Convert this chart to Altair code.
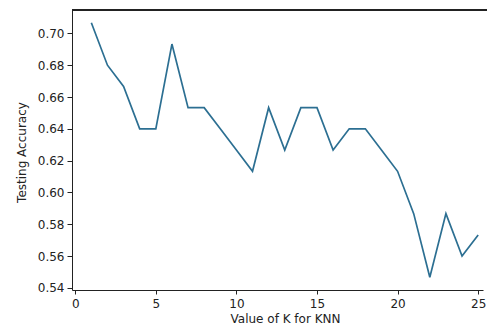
import altair as alt
import pandas as pd

k_values = list(range(1, 26))
accuracy = [0.7067, 0.6800, 0.6667, 0.6400, 0.6400, 0.6933, 0.6533, 0.6533,
            0.6400, 0.6267, 0.6133, 0.6533, 0.6267, 0.6533, 0.6533, 0.6267,
            0.6400, 0.6400, 0.6267, 0.6133, 0.5867, 0.5467, 0.5867, 0.5600,
            0.5733]
x_ticks = [0, 5, 10, 15, 20, 25]
y_ticks = [0.54, 0.56, 0.58, 0.60, 0.62, 0.64, 0.66, 0.68, 0.70]

df = pd.DataFrame({"k": k_values, "acc": accuracy})

W, H = 411, 280
FONT = "DejaVu Sans"
INK = "#222222"

line = alt.Chart(df).mark_line(color="#2c6f92", strokeWidth=1.7, clip=True).encode(
    x=alt.X("k:Q",
            scale=alt.Scale(domain=[-0.2, 25.3], nice=False, zero=False),
            axis=alt.Axis(values=x_ticks, format="d", title="Value of K for KNN",
                          grid=False, tickSize=4, labelPadding=4,
                          labelFont=FONT, labelFontSize=12, labelColor=INK,
                          titleFont=FONT, titleFontSize=12, titleFontWeight="normal",
                          titleColor=INK, titleBaseline="alphabetic",
                          titleX=213, titleY=32, titleAnchor="middle",
                          domainColor=INK, tickColor=INK)),
    y=alt.Y("acc:Q",
            scale=alt.Scale(domain=[0.5387, 0.7147], nice=False, zero=False),
            axis=alt.Axis(values=y_ticks, format=".2f", title="Testing Accuracy",
                          grid=False, tickSize=5, labelPadding=3,
                          labelFont=FONT, labelFontSize=12, labelColor=INK,
                          titleFont=FONT, titleFontSize=12, titleFontWeight="normal",
                          titleColor=INK, titleBaseline="alphabetic",
                          titleX=-47, titleY=142, titleAngle=270,
                          domainColor=INK, tickColor=INK)),
)

top_frame = alt.Chart(df).mark_rule(color=INK, strokeWidth=1).encode(
    x=alt.value(0), x2=alt.value(W + 4), y=alt.value(0)
)

chart = alt.layer(line, top_frame).properties(
    width=W, height=H,
    autosize=alt.AutoSizeParams(type="none"),
    padding={"left": 64, "top": 2, "right": 4, "bottom": 34},
    background="white",
).configure_view(stroke=None)

chart.save("out.html", embed_options={"renderer": "svg", "actions": False})
